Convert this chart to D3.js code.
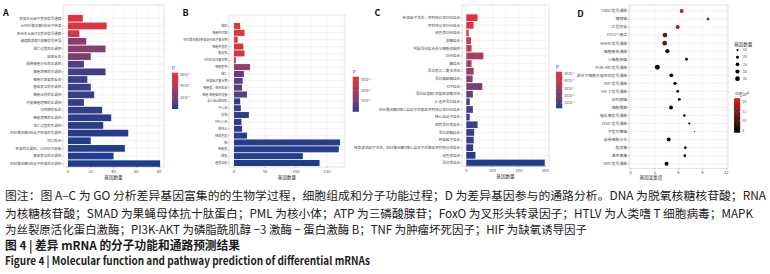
<!DOCTYPE html>
<html><head><meta charset="utf-8">
<script src="https://cdn.jsdelivr.net/npm/d3@7"></script>
<style>
body{margin:0;background:#fff}
svg{display:block}
text{font-family:"Noto Sans CJK SC","Noto Sans",sans-serif}
</style>
</head><body>
<svg id="c" width="770" height="274"></svg>
<script>
// ---------- DATA ----------
const aLabels = ["表皮生长因子受体信号通路","从RNA聚合酶II启动子转录","转化生长因子β受体信号通路","磷脂酰肌醇3激酶信号转导","凋亡过程的正调控","缺氧反应","成骨细胞分化的正调控","细胞增殖的负调控","细胞对缺氧的反应","基因表达的负调控","细胞迁移的正调控","内皮细胞增殖的正调控","对药物的反应","细胞增殖的正调控","凋亡过程的负调控","RNA聚合酶II启动子转录的负调控","伤口愈合","转录的正调控，以DNA为模板","基因表达的正调控","RNA聚合酶II启动子转录的正调控"];
const aCounts = [13,34,10,16,33,20,14,33,17,20,23,14,30,38,31,53,20,50,40,81];
const aP = [6.35e-4,6.0e-4,5.1e-4,2.7e-4,2.6e-4,2.1e-4,0.9e-4,0.6e-4,0.5e-4,0.45e-4,0.4e-4,0.35e-4,0.3e-4,0.25e-4,0.2e-4,0.15e-4,0.12e-4,0.08e-4,0.05e-4,0.03e-4];
const aTicks = [0,20,40,60,80];
const aLegendTicks = [6e-4,4e-4,2e-4];
const aLegendLabels = ["6X10⁻⁴","4X10⁻⁴","2X10⁻⁴"];

const bLabels = ["核膜","细胞外间隙","RNA聚合酶II转录调节因子复合物","细胞外基质","黏着斑","SMAD蛋白复合物","细胞表面","核仁","转录因子复合物","细胞质，核周区域","细胞-细胞黏附连接","血小板α颗粒腔","中心体","膜筏","PML小体","核斑点","核染色质","核","细胞质","核质","胞质溶胶"];
const bCounts = [10,17,6,15,17,3,26,16,14,13,21,10,11,24,12,13,21,171,169,111,138];
const bP = [3.32e-4,3.2e-4,3.15e-4,2.9e-4,2.85e-4,3.1e-4,1.65e-4,0.7e-4,0.68e-4,0.64e-4,0.6e-4,0.2e-4,0.18e-4,0.16e-4,0.14e-4,0.12e-4,0.1e-4,0.07e-4,0.05e-4,0.03e-4,0.001e-4];
const bTicks = [0,50,100,150];
const bLegendTicks = [3e-4,2e-4,1e-4];
const bLegendLabels = ["3X10⁻⁴","2X10⁻⁴","1X10⁻⁴"];

const cLabels = ["转录因子活性，序列特异性DNA结合","序列特异性DNA结合","染色质DNA结合","激酶结合","钙黏蛋白结合参与细胞间黏附","DNA结合","酶结合","蛋白质异二聚化活性","蛋白磷酸酶结合","ATP结合","蛋白丝氨酸/苏氨酸激酶活性","β-连环蛋白结合","RNA聚合酶II核心启动子近端区序列特异性DNA结合","核心启动子结合","相同蛋白质结合","蛋白激酶结合","转录因子结合","转录激活因子活性，RNA聚合酶II核心启动子近端区序列特异性结合","染色质结合","蛋白质结合"];
const cCounts = [43,28,9,18,20,65,20,28,24,61,25,13,25,13,43,30,28,26,35,299];
const cP = [5.3e-4,5.0e-4,4.8e-4,4.4e-4,4.3e-4,3.4e-4,3.0e-4,2.8e-4,2.2e-4,2.0e-4,1.5e-4,0.9e-4,0.85e-4,0.8e-4,0.7e-4,0.6e-4,0.55e-4,0.5e-4,0.4e-4,0.32e-4];
const cTicks = [0,100,200,300];
const cLegendTicks = [5e-4,4e-4,3e-4,2e-4,1e-4];
const cLegendLabels = ["5X10⁻⁴","4X10⁻⁴","3X10⁻⁴","2X10⁻⁴","1X10⁻⁴"];

const dLabels = ["FoxO 信号通路","胰腺癌","乙型肝炎","HTLV-I 感染","MAPK 信号通路","细胞衰老通路","小细胞肺癌","PI3K-Akt 信号通路","调节干细胞多能性的信号通路","TNF 信号通路","HIF-1 信号通路","前列腺癌","细胞周期","催乳素信号通路","VEGF 信号通路","子宫内膜癌","破骨细胞分化","胶质瘤","黑色素瘤","Wnt 信号通路"];
const dEnrich = [6.4,9.7,5.9,4.3,4.27,4.6,7.0,3.35,5.1,5.56,5.9,6.1,5.06,6.73,7.36,8.03,4.77,6.86,6.8,4.5];
const dCounts = [28,20,28,34,34,31,20,38,26,23,20,20,28,18,16,12,28,18,18,28];
const dLogP = [14.5,13.9,13.3,10.6,10.2,8.6,8.2,8.3,8.0,7.9,7.9,7.8,7.8,7.7,7.7,7.7,7.7,7.6,7.6,7.6];
const dTicks = [0,3,6,9,12];
const dSizeLegend = [15,20,25,30,35];
const dColorLegend = [14,12,10,8];

const captionLines = [
  "图注：图 A–C 为 GO 分析差异基因富集的的生物学过程，细胞组成和分子功能过程；D 为差异基因参与的通路分析。DNA 为脱氧核糖核苷酸；RNA",
  "为核糖核苷酸；SMAD 为果蝇母体抗十肽蛋白；PML 为核小体；ATP 为三磷酸腺苷；FoxO 为叉形头转录因子；HTLV 为人类嗜 T 细胞病毒；MAPK",
  "为丝裂原活化蛋白激酶；PI3K-AKT 为磷脂酰肌醇 −3 激酶 − 蛋白激酶 B；TNF 为肿瘤坏死因子；HIF 为缺氧诱导因子",
  "图 4  |  差异 mRNA 的分子功能和通路预测结果",
  "Figure 4  |  Molecular function and pathway prediction of differential mRNAs"
];

// ---------- DRAW ----------
const svg = d3.select("#c");
const LOW = "#1d3d8c", HIGH = "#e5323a";
const GRID = "#ebebeb", BORDER = "#c8c8c8", TXT = "#4d4d4d";
let gid = 0;

function gradLegend(o){
  const id = "g" + (gid++);
  const grad = svg.append("defs").append("linearGradient").attr("id", id)
    .attr("x1",0).attr("y1",1).attr("x2",0).attr("y2",0);
  d3.range(0,1.0001,0.1).forEach(t=>{
    grad.append("stop").attr("offset",t).attr("stop-color",o.color(o.domain[0]+t*(o.domain[1]-o.domain[0])));
  });
  const ys = d3.scaleLinear().domain(o.domain).range([o.y1,o.y0]);
  svg.append("rect").attr("x",o.x).attr("y",o.y0).attr("width",o.w).attr("height",o.y1-o.y0).attr("fill",`url(#${id})`);
  o.ticks.forEach((t,i)=>{
    svg.append("line").attr("x1",o.x).attr("x2",o.x+1.2).attr("y1",ys(t)).attr("y2",ys(t)).attr("stroke","#fff").attr("stroke-width",0.3);
    svg.append("line").attr("x1",o.x+o.w-1.2).attr("x2",o.x+o.w).attr("y1",ys(t)).attr("y2",ys(t)).attr("stroke","#fff").attr("stroke-width",0.3);
    svg.append("text").attr("x",o.x+o.w+2).attr("y",ys(t)).attr("dy","0.35em")
      .attr("font-size",o.fs).attr("fill",TXT).text(o.labels[i]);
  });
}

function barPanel(o){
  const x = d3.scaleLinear().domain(o.xDomain).range([o.box[0],o.box[1]]);
  const step = (o.last-o.first)/(o.labels.length-1);
  const y = d3.scaleBand().domain(o.labels).range([o.first-step/2,o.last+step/2]).paddingInner(0.12).paddingOuter(0.06);
  const pExt = d3.extent(o.p);
  const color = d3.scaleLinear().domain(pExt).range([LOW,HIGH]).interpolate(d3.interpolateLab);
  const g = svg.append("g");
  g.append("rect").attr("x",o.box[0]).attr("y",o.box[2]).attr("width",o.box[1]-o.box[0]).attr("height",o.box[3]-o.box[2]).attr("fill","#fff");
  // minor grid
  const t = o.ticks, half = (t[1]-t[0])/2;
  const minors = d3.range(t[0]-half, o.xDomain[1], t[1]-t[0]).filter(v=>v>o.xDomain[0]&&v<o.xDomain[1]);
  g.selectAll(null).data(minors).join("line").attr("x1",d=>x(d)).attr("x2",d=>x(d)).attr("y1",o.box[2]).attr("y2",o.box[3]).attr("stroke",GRID).attr("stroke-width",0.3);
  g.selectAll(null).data(t).join("line").attr("x1",d=>x(d)).attr("x2",d=>x(d)).attr("y1",o.box[2]).attr("y2",o.box[3]).attr("stroke",GRID).attr("stroke-width",0.6);
  g.selectAll(null).data(o.labels).join("line").attr("x1",o.box[0]).attr("x2",o.box[1]).attr("y1",d=>y(d)+y.bandwidth()/2).attr("y2",d=>y(d)+y.bandwidth()/2).attr("stroke",GRID).attr("stroke-width",0.6);
  g.selectAll(null).data(o.labels).join("rect")
    .attr("x",x(0)).attr("y",d=>y(d)).attr("height",y.bandwidth())
    .attr("width",(d,i)=>x(o.counts[i])-x(0))
    .attr("fill",(d,i)=>color(o.p[i]));
  g.append("rect").attr("x",o.box[0]).attr("y",o.box[2]).attr("width",o.box[1]-o.box[0]).attr("height",o.box[3]-o.box[2]).attr("fill","none").attr("stroke",BORDER).attr("stroke-width",0.5);
  // y axis
  g.selectAll(null).data(o.labels).join("line").attr("x1",o.box[0]-1.2).attr("x2",o.box[0]).attr("y1",d=>y(d)+y.bandwidth()/2).attr("y2",d=>y(d)+y.bandwidth()/2).attr("stroke","#333").attr("stroke-width",0.3);
  g.selectAll(null).data(o.labels).join("text").attr("x",o.box[0]-1.8).attr("y",d=>y(d)+y.bandwidth()/2).attr("dy","0.35em")
    .attr("text-anchor","end").attr("font-size",o.fs).attr("fill",TXT).text(d=>d);
  // x axis
  g.selectAll(null).data(t).join("line").attr("x1",d=>x(d)).attr("x2",d=>x(d)).attr("y1",o.box[3]).attr("y2",o.box[3]+1.2).attr("stroke","#333").attr("stroke-width",0.3);
  g.selectAll(null).data(t).join("text").attr("x",d=>x(d)).attr("y",o.box[3]+5.8).attr("text-anchor","middle").attr("font-size",4.2).attr("fill",TXT).text(d=>d);
  g.append("text").attr("x",(o.box[0]+o.box[1])/2).attr("y",o.box[3]+11.5).attr("text-anchor","middle").attr("font-size",4.6).attr("fill","#333").text("基因数量");
  // legend
  svg.append("text").attr("x",o.leg.x).attr("y",o.leg.y0-3).attr("font-size",4.6).attr("fill","#333").text("P");
  gradLegend({x:o.leg.x,y0:o.leg.y0,y1:o.leg.y1,w:6.2,domain:pExt,color,ticks:o.legTicks,labels:o.legLabels,fs:3.4});
}

barPanel({labels:aLabels,counts:aCounts,p:aP,ticks:aTicks,xDomain:[-4.40,84.40],box:[63,164,5,167],first:18.3,last:163.7,fs:3.5,
  leg:{x:172,y0:72.7,y1:109},legTicks:aLegendTicks,legLabels:aLegendLabels});
barPanel({labels:bLabels,counts:bCounts,p:bP,ticks:bTicks,xDomain:[-8.06,179.03],box:[229,345,15,167],first:26,last:163,fs:3.0,
  leg:{x:352.7,y0:76.7,y1:111.7},legTicks:bLegendTicks,legLabels:bLegendLabels});
barPanel({labels:cLabels,counts:cCounts,p:cP,ticks:cTicks,xDomain:[-16.39,315.25],box:[462,549,5,166],first:17.7,last:163,fs:3.6,
  leg:{x:556,y0:71.7,y1:108.3},legTicks:cLegendTicks,legLabels:cLegendLabels});

// ---------- PANEL D ----------
(function(){
  const box=[629,728,5,168.5];
  const x = d3.scaleLinear().domain([-0.213,12.213]).range([box[0],box[1]]);
  const y = d3.scalePoint().domain(dLabels).range([11,163.7]);
  const lExt = d3.extent(dLogP);
  const lExtLeg = [7.6,14.7];
  const color = d3.scaleLinear().domain(lExtLeg).range(["#000000","#d41c1c"]).interpolate(d3.interpolateLab);
  const r = c => Math.sqrt(Math.max(0.2, 1 + (c-15)*0.225));
  const g = svg.append("g");
  const minors=[1.5,4.5,7.5,10.5];
  g.selectAll(null).data(minors).join("line").attr("x1",d=>x(d)).attr("x2",d=>x(d)).attr("y1",box[2]).attr("y2",box[3]).attr("stroke",GRID).attr("stroke-width",0.3);
  g.selectAll(null).data(dTicks).join("line").attr("x1",d=>x(d)).attr("x2",d=>x(d)).attr("y1",box[2]).attr("y2",box[3]).attr("stroke",GRID).attr("stroke-width",0.6);
  g.selectAll(null).data(dLabels).join("line").attr("x1",box[0]).attr("x2",box[1]).attr("y1",d=>y(d)).attr("y2",d=>y(d)).attr("stroke",GRID).attr("stroke-width",0.6);
  g.append("rect").attr("x",box[0]).attr("y",box[2]).attr("width",box[1]-box[0]).attr("height",box[3]-box[2]).attr("fill","none").attr("stroke",BORDER).attr("stroke-width",0.5);
  g.selectAll(null).data(dLabels).join("circle").attr("cx",(d,i)=>x(dEnrich[i])).attr("cy",d=>y(d))
    .attr("r",(d,i)=>r(dCounts[i])).attr("fill",(d,i)=>color(dLogP[i]));
  g.selectAll(null).data(dLabels).join("line").attr("x1",box[0]-1.2).attr("x2",box[0]).attr("y1",d=>y(d)).attr("y2",d=>y(d)).attr("stroke","#333").attr("stroke-width",0.3);
  g.selectAll(null).data(dLabels).join("text").attr("x",box[0]-1.8).attr("y",d=>y(d)).attr("dy","0.35em").attr("text-anchor","end").attr("font-size",3.9).attr("fill",TXT).text(d=>d);
  g.selectAll(null).data(dTicks).join("line").attr("x1",d=>x(d)).attr("x2",d=>x(d)).attr("y1",box[3]).attr("y2",box[3]+1.2).attr("stroke","#333").attr("stroke-width",0.3);
  g.selectAll(null).data(dTicks).join("text").attr("x",d=>x(d)).attr("y",box[3]+5.2).attr("text-anchor","middle").attr("font-size",4.2).attr("fill",TXT).text(d=>d);
  g.append("text").attr("x",651).attr("y",box[3]+10.5).attr("text-anchor","middle").attr("font-size",4.6).attr("fill","#333").text("基因富集度");
  // size legend
  svg.append("text").attr("x",734).attr("y",46.3).attr("font-size",4.6).attr("fill","#333").text("基因数量");
  const sy = d3.scalePoint().domain(dSizeLegend).range([50,78.7]);
  svg.selectAll(null).data(dSizeLegend).join("circle").attr("cx",737.5).attr("cy",d=>sy(d)).attr("r",d=>r(d)).attr("fill","#000");
  svg.selectAll(null).data(dSizeLegend).join("text").attr("x",742.7).attr("y",d=>sy(d)).attr("dy","0.35em").attr("font-size",3.6).attr("fill",TXT).text(d=>d);
  // color legend
  const tt = svg.append("text").attr("x",734).attr("y",94.8).attr("font-size",4.6).attr("fill","#333");
  tt.append("tspan").text("-log");
  tt.append("tspan").attr("font-size",3.2).attr("dy",1.2).text("10");
  tt.append("tspan").attr("dy",-1.2).attr("font-style","italic").text("P");
  gradLegend({x:734,y0:98.3,y1:132.7,w:6.2,domain:lExtLeg,color,ticks:dColorLegend,labels:dColorLegend.map(String),fs:3.6});
})();

// ---------- PANEL LETTERS ----------
[["A",3,16.2],["B",182.5,16.2],["C",374.5,16.2],["D",577.3,16.7]].forEach(([t,x,y])=>{
  svg.append("text").attr("x",x).attr("y",y).attr("font-family","Liberation Sans, Arial, sans-serif").attr("font-weight",700).attr("font-size",9).attr("fill","#111").text(t);
});

// ---------- CAPTION ----------
const capY = [200.4,218.4,234.3,250.4,265.2];
const capW = [761,748,582,235,365];
captionLines.forEach((t,i)=>{
  const e = svg.append("text").attr("x",5).attr("y",capY[i]).attr("fill","#1c1a1a")
    .attr("textLength",capW[i]).attr("lengthAdjust","spacingAndGlyphs").text(t);
  if(i<3){ e.attr("font-size",11.6); }
  else if(i===3){ e.attr("font-size",12).attr("font-weight",700); }
  else { e.attr("font-family","Lato, 'Open Sans', sans-serif").attr("font-size",11).attr("font-weight",700); }
});
</script>
</body></html>
